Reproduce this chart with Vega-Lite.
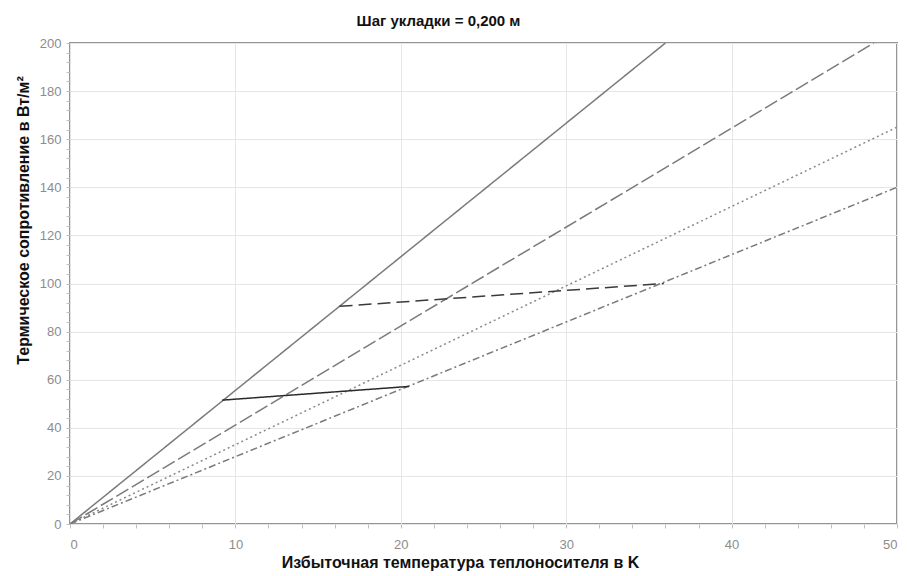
{
  "$schema": "https://vega.github.io/schema/vega-lite/v6.json",
  "width": 827,
  "height": 481,
  "autosize": {"type": "none"},
  "padding": {"left": 70, "top": 43, "right": 10, "bottom": 52},
  "background": "white",
  "title": {
    "text": "Шаг укладки = 0,200 м",
    "anchor": "middle",
    "frame": "group",
    "dx": -45,
    "offset": 8,
    "font": "Liberation Sans",
    "fontSize": 15,
    "fontWeight": "bold",
    "color": "#111"
  },
  "config": {
    "view": {"stroke": "#959595", "strokeWidth": 2},
    "axis": {
      "labelFont": "Liberation Sans",
      "labelFontSize": 13,
      "labelColor": "#8c8c8c",
      "titleFont": "Liberation Sans",
      "titleFontSize": 16,
      "titleFontWeight": "bold",
      "titleColor": "#111",
      "gridColor": "#e6e6e6",
      "gridWidth": 1,
      "tickColor": "#c0c0c0",
      "tickSize": 4,
      "domain": false
    }
  },
  "data": {
    "values": [
      {"series": "s1", "t": 0, "q": 0},
      {"series": "s1", "t": 36, "q": 200},
      {"series": "s2", "t": 0, "q": 0},
      {"series": "s2", "t": 48.6, "q": 200},
      {"series": "s3", "t": 0, "q": 0},
      {"series": "s3", "t": 50, "q": 165},
      {"series": "s4", "t": 0, "q": 0},
      {"series": "s4", "t": 50, "q": 140},
      {"series": "b1", "t": 9.2, "q": 51.5},
      {"series": "b1", "t": 20.5, "q": 57.2},
      {"series": "b2", "t": 16.3, "q": 90.5},
      {"series": "b2", "t": 35.9, "q": 100}
    ]
  },
  "layer": [
    {
      "mark": {"type": "line", "clip": true},
      "encoding": {
        "x": {
          "field": "t",
          "type": "quantitative",
          "scale": {"domain": [0, 50], "nice": false},
          "axis": {
            "values": [0, 10, 20, 30, 40, 50],
            "title": "Избыточная температура теплоносителя в K",
            "titleX": 390,
            "titleY": 38,
            "titleBaseline": "middle",
            "labelPadding": 14,
            "ticks": false
          }
        },
        "y": {
          "field": "q",
          "type": "quantitative",
          "scale": {"domain": [0, 200], "nice": false},
          "axis": {
            "values": [0, 20, 40, 60, 80, 100, 120, 140, 160, 180, 200],
            "title": "Термическое сопротивление в Вт/м²",
            "titleX": -47,
            "titleY": 177,
            "titleAngle": -90,
            "titleAlign": "center",
            "titleBaseline": "middle",
            "labelPadding": 9,
            "ticks": false
          }
        },
        "detail": {"field": "series"},
        "color": {
          "field": "series",
          "scale": {"domain": ["s1", "s2", "s3", "s4", "b1", "b2"], "range": ["#7a7a7a", "#7a7a7a", "#8a8a8a", "#7a7a7a", "#2a2a2a", "#3a3a3a"]},
          "legend": null
        },
        "strokeDash": {
          "field": "series",
          "scale": {"domain": ["s1", "s2", "s3", "s4", "b1", "b2"], "range": [[1, 0], [14, 4], [2, 3], [7, 3, 2, 3], [1, 0], [13, 6]]},
          "legend": null
        },
        "strokeWidth": {
          "field": "series",
          "scale": {"domain": ["s1", "s2", "s3", "s4", "b1", "b2"], "range": [1.5, 1.5, 1.5, 1.5, 2, 2.4]},
          "legend": null
        }
      }
    },
    {
      "mark": {"type": "point", "opacity": 0},
      "encoding": {
        "x": {
          "field": "t",
          "type": "quantitative",
          "axis": {
            "orient": "bottom",
            "values": [0, 2, 4, 6, 8, 10, 12, 14, 16, 18, 20, 22, 24, 26, 28, 30, 32, 34, 36, 38, 40, 42, 44, 46, 48, 50],
            "labels": false,
            "grid": false,
            "title": null,
            "tickSize": 4
          }
        },
        "y": {
          "field": "q",
          "type": "quantitative",
          "axis": {
            "orient": "left",
            "values": [0, 4, 8, 12, 16, 20, 24, 28, 32, 36, 40, 44, 48, 52, 56, 60, 64, 68, 72, 76, 80, 84, 88, 92, 96, 100, 104, 108, 112, 116, 120, 124, 128, 132, 136, 140, 144, 148, 152, 156, 160, 164, 168, 172, 176, 180, 184, 188, 192, 196, 200],
            "labels": false,
            "grid": false,
            "title": null,
            "tickSize": 4
          }
        }
      }
    }
  ],
  "resolve": {"axis": {"x": "independent", "y": "independent"}}
}
